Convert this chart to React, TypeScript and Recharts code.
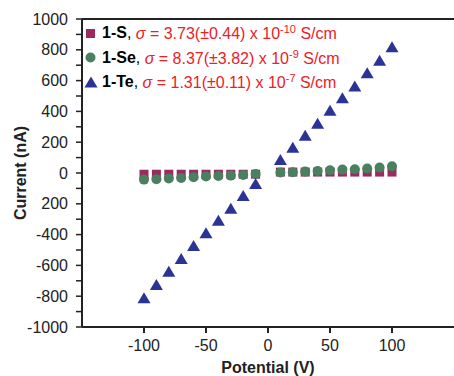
import React from "react";
import {
  ScatterChart,
  Scatter,
  XAxis,
  YAxis,
  Legend,
  ReferenceLine,
  Label,
} from "recharts";

// values
const potentials = [-100, -90, -80, -70, -60, -50, -40, -30, -20, -10, 10, 20, 30, 40, 50, 60, 70, 80, 90, 100];
const currentS = [-8, -8, -8, -8, -8, -8, -8, -8, -8, -8, 6, 6, 6, 6, 6, 6, 6, 6, 6, 6];
const currentSe = [-43, -40, -36, -32, -27, -23, -19, -17, -13, -6, 3, 5, 9, 13, 18, 22, 24, 29, 35, 44];
const currentTe = [-814, -727, -641, -558, -474, -392, -310, -232, -149, -71, 84, 164, 242, 320, 405, 486, 562, 647, 729, 816];

const xTicks = [-100, -50, 0, 50, 100];
const yTicks = [-1000, -900, -800, -700, -600, -500, -400, -300, -200, -100, 0, 100, 200, 300, 400, 500, 600, 700, 800, 900, 1000];
// the original figure prints "200" at -200
const yTickLabels: Record<number, string> = {
  "-1000": "-1000", "-800": "-800", "-600": "-600", "-400": "-400", "-200": "200",
  "0": "0", "200": "200", "400": "400", "600": "600", "800": "800", "1000": "1000",
};

const seriesNames = ["1-S", "1-Se", "1-Te"];
const sigmaValues = ["3.73(±0.44)", "8.37(±3.82)", "1.31(±0.11)"];
const sigmaExponents = ["-10", "-9", "-7"];

const COLORS = ["#9b2a61", "#4a7f5f", "#2b3396"];
const RED = "#ec2027";
const FONT = "'Liberation Sans', Arial, sans-serif";

const toPoints = (ys: number[]) => potentials.map((x, i) => ({ x, y: ys[i] }));

const SquareDot = (props: any) => {
  const { cx, cy } = props;
  return <rect x={cx - 4.5} y={cy - 4.5} width={9} height={9} fill={COLORS[0]} />;
};
const CircleDot = (props: any) => {
  const { cx, cy } = props;
  return <circle cx={cx} cy={cy} r={5} fill={COLORS[1]} />;
};
const TriangleDot = (props: any) => {
  const { cx, cy } = props;
  return (
    <polygon
      points={`${cx},${cy - 6} ${cx + 6.5},${cy + 5} ${cx - 6.5},${cy + 5}`}
      fill={COLORS[2]}
    />
  );
};

const legendMarker = (i: number) => {
  if (i === 0) return <rect x={2} y={2} width={9} height={9} fill={COLORS[0]} />;
  if (i === 1) return <circle cx={6.5} cy={6.5} r={5} fill={COLORS[1]} />;
  return <polygon points="7,0.5 13.5,11.5 0.5,11.5" fill={COLORS[2]} />;
};

const renderLegend = () => (
  <div style={{ fontFamily: FONT, fontSize: 16 }}>
    {seriesNames.map((name, i) => (
      <div key={name} style={{ display: "flex", alignItems: "center", height: 24.5, whiteSpace: "nowrap" }}>
        <svg width={14} height={13} style={{ marginRight: 4 }}>
          {legendMarker(i)}
        </svg>
        <span style={{ fontWeight: "bold", color: "#000" }}>{name}</span>
        <span style={{ color: "#000" }}>,&nbsp;</span>
        <span style={{ color: RED }}>
          <i>σ</i> = {sigmaValues[i]} x 10
          <sup style={{ fontSize: 11, verticalAlign: 6 }}>{sigmaExponents[i]}</sup> S/cm
        </span>
      </div>
    ))}
  </div>
);

const YTick = (props: any) => {
  const { x, y, payload } = props;
  const label = yTickLabels[payload.value];
  if (label === undefined) return <g />;
  return (
    <text x={x} y={y} dy="0.35em" textAnchor="end" fontSize={16} fontFamily={FONT} fill="#222">
      {label}
    </text>
  );
};

const YTitle = (props: any) => {
  const { viewBox } = props;
  const cy = viewBox.y + viewBox.height / 2;
  return (
    <text
      x={20}
      y={cy}
      transform={`rotate(-90, 20, ${cy})`}
      textAnchor="middle"
      dominantBaseline="central"
      fontSize={16}
      fontWeight="bold"
      fontFamily={FONT}
      fill="#222"
    >
      Current (nA)
    </text>
  );
};

export default function App() {
  return (
    <div style={{ position: "absolute", left: 0, top: 0, background: "#fff" }}>
      <ScatterChart width={454} height={376} margin={{ top: 19, right: 0, bottom: 0, left: 0 }}>
        <XAxis
          type="number"
          dataKey="x"
          domain={[-150, 150]}
          ticks={xTicks}
          allowDataOverflow
          height={49}
          tickSize={6}
          tickMargin={7}
          axisLine={{ stroke: "#222", strokeWidth: 2 }}
          tickLine={{ stroke: "#222", strokeWidth: 2 }}
          tick={{ fontSize: 16, fontFamily: FONT, fill: "#222" }}
        >
          <Label
            value="Potential (V)"
            position="insideBottom"
            offset={3}
            style={{ fontSize: 16, fontWeight: "bold", fontFamily: FONT, fill: "#222" }}
          />
        </XAxis>
        <YAxis
          type="number"
          dataKey="y"
          domain={[-1000, 1000]}
          ticks={yTicks}
          interval={0}
          allowDataOverflow
          width={82}
          tickSize={6}
          tickMargin={8}
          axisLine={{ stroke: "#222", strokeWidth: 2 }}
          tickLine={{ stroke: "#222", strokeWidth: 1.5 }}
          tick={<YTick />}
        >
          <Label content={<YTitle />} />
        </YAxis>
        <ReferenceLine y={1000} stroke="#222" strokeWidth={2} ifOverflow="visible" />
        <Legend
          layout="vertical"
          align="center"
          verticalAlign="middle"
          content={renderLegend}
          wrapperStyle={{ left: 84, top: 21, width: "auto" }}
        />
        <Scatter name="1-S" data={toPoints(currentS)} shape={<SquareDot />} isAnimationActive={false} />
        <Scatter name="1-Se" data={toPoints(currentSe)} shape={<CircleDot />} isAnimationActive={false} />
        <Scatter name="1-Te" data={toPoints(currentTe)} shape={<TriangleDot />} isAnimationActive={false} />
      </ScatterChart>
    </div>
  );
}
